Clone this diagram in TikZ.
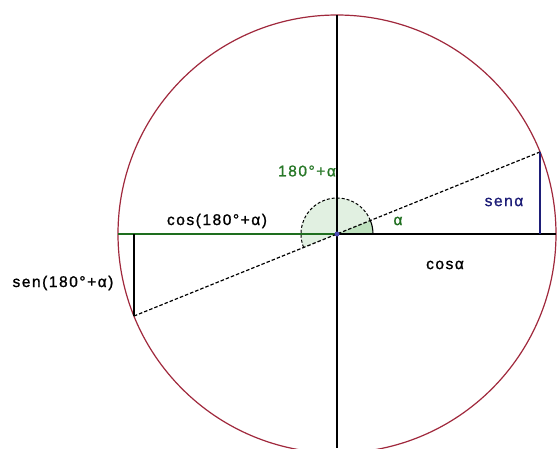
\documentclass[tikz,border=0pt]{standalone}
\usetikzlibrary{calc}
\usepackage{fontspec}
\setmainfont{Liberation Sans}
\newfontfamily\lblfont[LetterSpace=10,FakeBold=1.2]{Liberation Sans}
\definecolor{circred}{RGB}{160,40,60}
\definecolor{dkgreen}{RGB}{30,110,30}
\definecolor{lblgreen}{RGB}{40,120,40}
\definecolor{navyb}{RGB}{30,30,120}
\definecolor{fillA}{RGB}{225,240,225}
\definecolor{fillB}{RGB}{190,225,190}
\tikzset{
  lbl/.style={inner sep=0pt, font=\lblfont\fontsize{15.5}{17}\selectfont},
  axis/.style={black, line width=1.2pt},
  diam/.style={black, line width=1.2pt, dash pattern=on 3.5pt off 2pt},
}
\begin{document}
\begin{tikzpicture}[x=1pt,y=1pt]
\useasboundingbox (0,0) rectangle (557,448);
\clip (0,0) rectangle (557,448);
\fill[white] (0,0) rectangle (557,448);
\coordinate (O) at (337,214);
\coordinate (P) at ($(O)+(22:219)$);
\coordinate (Q) at ($(O)+(202:219)$);
\coordinate (Px) at (P |- O);
\coordinate (Qx) at (Q |- O);
\coordinate (L) at ($(O)+(180:219)$);
\coordinate (R) at ($(O)+(0:219)$);
\coordinate (T) at ($(O)+(90:219)$);
\coordinate (B) at (337,0);
% angle sectors
\fill[fillA] (O) -- ++(22:36) arc[start angle=22, end angle=202, radius=36] -- cycle;
\fill[fillB] (O) -- ++(0:36) arc[start angle=0, end angle=22, radius=36] -- cycle;
\draw[black, line width=1pt, dash pattern=on 3pt off 2pt] ($(O)+(22:36)$) arc[start angle=22, end angle=202, radius=36];
\draw[black, line width=1.1pt] ($(O)+(0:36)$) arc[start angle=0, end angle=22, radius=36];
% circle
\draw[circred, line width=1.2pt] (O) circle[radius=219];
% axes
\draw[axis] (O) -- (R);
\draw[axis] (T) -- (B);
\draw[dkgreen, line width=1.4pt] (L) -- (O);
% diameter
\draw[diam] (Q) -- (P);
% sine segments
\draw[navyb, line width=1.2pt] (P) -- (Px);
\draw[black, line width=1.4pt] (Q) -- (Qx);
% centre
\fill[blue!40!gray] (O) circle[radius=2.5];
% labels
\node[lbl, text=lblgreen] (l1) at (307,277) {180°+α};
\node[lbl] (l2) at (217,227) {cos(180°+α)};
\node[lbl] (l3) at (63,165) {sen(180°+α)};
\node[lbl, text=dkgreen] (l4) at (398,227) {α};
\node[lbl, text=navyb] (l5) at (504,246) {senα};
\node[lbl] (l6) at (445,183) {cosα};
\end{tikzpicture}
\end{document}
